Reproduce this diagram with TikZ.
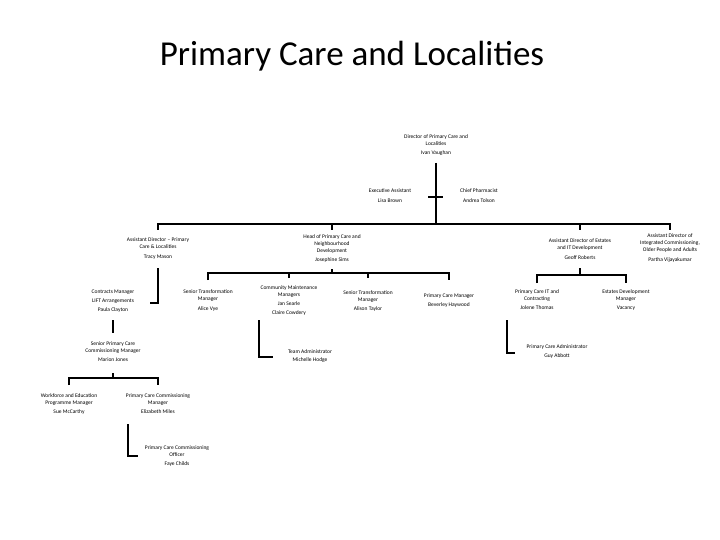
\documentclass[tikz,border=0pt]{standalone}
\usepackage{fontspec}
\setmainfont{Carlito}
\begin{document}
\begin{tikzpicture}[x=1pt,y=-1pt,
    post/.style={align=center,inner sep=0pt,font=\fontsize{5.5}{7}\selectfont},
    link/.style={line width=2.8pt}]
  \useasboundingbox (0,0) rectangle (720,540);
  \node[font=\fontsize{35}{40}\selectfont,anchor=base] (title) at (352,66) {Primary Care and Localities};
  \node[post] (dir) at (436,145) {Director of Primary Care and\\Localities\\[2pt]Ivan Vaughan};
  \node[post] (ea) at (390,196) {Executive Assistant\\[3pt]Lisa Brown};
  \node[post] (cp) at (479,196) {Chief Pharmacist\\[3pt]Andrea Tolson};
  \node[post] (adpc) at (158,249) {Assistant Director -- Primary\\Care \& Localities\\[3pt]Tracy Mason};
  \node[post] (hpc) at (332,249) {Head of Primary Care and\\Neighbourhood\\Development\\[2pt]Josephine Sims};
  \node[post] (ade) at (580,249) {Assistant Director of Estates\\and IT Development\\[3pt]Geoff Roberts};
  \node[post] (adi) at (670,248) {Assistant Director of\\Integrated Commissioning,\\Older People and Adults\\[3pt]Partha Vijayakumar};
  \node[post] (contracts) at (113,301) {Contracts Manager\\[2pt]LIFT Arrangements\\[2pt]Paula Clayton};
  \node[post] (spccm) at (113,352) {Senior Primary Care\\Commissioning Manager\\[2pt]Marion Jones};
  \node[post] (wf) at (69,404) {Workforce and Education\\Programme Manager\\[2pt]Sue McCarthy};
  \node[post] (pccm) at (158,404) {Primary Care Commissioning\\Manager\\[2pt]Elizabeth Miles};
  \node[post] (pcco) at (177,456) {Primary Care Commissioning\\Officer\\[2pt]Faye Childs};
  \node[post] (stm1) at (208,301) {Senior Transformation\\Manager\\[3pt]Alice Vye};
  \node[post] (cmm) at (289,301) {Community Maintenance\\Managers\\[2pt]Jan Searle\\[2pt]Claire Cowdery};
  \node[post] (stm2) at (368,301) {Senior Transformation\\Manager\\[2pt]Alison Taylor};
  \node[post] (pcm) at (449,301) {Primary Care Manager\\[2pt]Beverley Haywood};
  \node[post] (ta) at (310,356) {Team Administrator\\[1pt]Michelle Hodge};
  \node[post] (pcit) at (537,300) {Primary Care IT and\\Contracting\\[2pt]Jolene Thomas};
  \node[post] (edm) at (626,300) {Estates Development\\Manager\\[2pt]Vacancy};
  \node[post] (pca) at (557,352) {Primary Care Administrator\\[2pt]Guy Abbott};
  \coordinate (b1) at (436,224);
  \coordinate (b2) at (113,378);
  \coordinate (b3) at (332,273);
  \coordinate (b4) at (580,275);
  \draw[link] (dir) ++(0,18) -- (b1);
  \draw[link] (dir) ++(-8,52) -- ++(15,0);
  \draw[link] (adpc |- b1) ++(0,6) -- (adpc |- b1) -- (adi |- b1) -- ++(0,6);
  \draw[link] (hpc |- b1) -- ++(0,6);
  \draw[link] (ade |- b1) -- ++(0,6);
  \draw[link] (adpc) ++(0,19) -- ++(0,35) -- ++(-8,0);
  \draw[link] (contracts) ++(0,19) -- ++(0,13);
  \draw[link] (spccm) ++(0,21) -- (b2);
  \draw[link] (wf |- b2) ++(0,7) -- (wf |- b2) -- (pccm |- b2) -- ++(0,7);
  \draw[link] (pccm) ++(-30,20) -- ++(0,32) -- ++(10,0);
  \draw[link] (hpc) ++(0,20) -- (b3);
  \draw[link] (stm1 |- b3) ++(0,7) -- (stm1 |- b3) -- (pcm |- b3) -- ++(0,7);
  \draw[link] (cmm |- b3) -- ++(0,5);
  \draw[link] (stm2 |- b3) -- ++(0,5);
  \draw[link] (cmm) ++(-30,19) -- ++(0,37) -- ++(14,0);
  \draw[link] (ade) ++(0,19) -- (b4);
  \draw[link] (pcit |- b4) ++(0,8) -- (pcit |- b4) -- (edm |- b4) -- ++(0,8);
  \draw[link] (pcit) ++(-30,20) -- ++(0,33) -- ++(8,0);
\end{tikzpicture}
\end{document}
